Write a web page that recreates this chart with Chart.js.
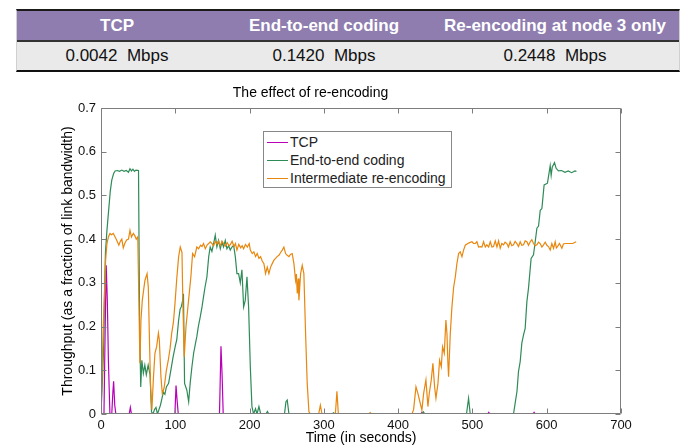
<!DOCTYPE html>
<html>
<head>
<meta charset="utf-8">
<script src="https://cdn.jsdelivr.net/npm/chart.js@4.4.0/dist/chart.umd.min.js"></script>
<style>
html,body{margin:0;padding:0;background:#fff;width:683px;height:445px;overflow:hidden;font-family:"Liberation Sans",Arial,sans-serif;}
#wrap{position:relative;width:683px;height:445px;}
#chart{position:absolute;left:0;top:0;}
#tbl{position:absolute;left:16px;top:9px;width:664px;border-top:2px solid #1a1a1a;border-bottom:2px solid #111;border-left:1px solid #d0d0d0;border-right:1px solid #d0d0d0;box-sizing:border-box;}
.row{display:flex;}
.hdr{background:#8F7DB0;height:29px;border-bottom:2px solid #333;}
.val{background:#EAEAEA;height:28px;}
.cell{display:flex;align-items:center;justify-content:center;white-space:pre;font-size:17px;}
.hdr .cell{color:#fff;font-weight:bold;}
.val .cell{color:#111;}
#legend{position:absolute;left:263px;top:131px;width:189px;height:57px;border:1px solid #888;background:#fff;box-sizing:border-box;}
.li{position:absolute;left:0;height:18px;line-height:18px;font-size:14px;color:#222;white-space:nowrap;}
.li .tx{position:absolute;left:26px;top:0;}
.sw{position:absolute;left:3px;top:9px;width:21px;height:1px;}
</style>
</head>
<body>
<div id="wrap">
<canvas id="chart" width="683" height="445"></canvas>
<div id="tbl"></div>
<div id="legend"></div>
</div>
<script>
// ---- data ----
const tableHeaders = ["TCP", "End-to-end coding", "Re-encoding at node 3 only"];
const tableValues = ["0.0042  Mbps", "0.1420  Mbps", "0.2448  Mbps"];
const seriesNames = ["TCP", "End-to-end coding", "Intermediate re-encoding"];
const xTickValues = [0, 100, 200, 300, 400, 500, 600, 700];
const yTickValues = [0, 0.1, 0.2, 0.3, 0.4, 0.5, 0.6, 0.7];

// [time (s), throughput]
const tcpSeries = [[0,0],[4,0],[5.5,0.18],[7,0.34],[8.5,0.26],[10,0.12],[12,0],[14.5,0],[16,0.05],[17,0.075],[18.5,0.02],[20,0],[38,0],[39.5,0.015],[41,0],[99.5,0],[101,0.065],[102.5,0.03],[104,0],[159.5,0],[161.5,0.155],[163,0.09],[164.5,0],[430.5,0],[432,0.004],[433.5,0],[520.5,0],[522,0.004],[523.5,0],[581.5,0],[583,0.004],[584.5,0],[640,0]];

const e2eSeries = [[0,0],[2,0.08],[3.5,0.15],[5,0.3],[6,0.37],[8,0.42],[10,0.46],[12.5,0.51],[14.5,0.535],[17,0.55],[19,0.556],[22,0.557],[25,0.555],[28,0.558],[31,0.555],[34,0.557],[37,0.553],[39,0.561],[41,0.556],[43,0.56],[45,0.555],[47,0.558],[50.5,0.557],[52,0.2],[53.5,0.062],[55,0.123],[57,0.093],[59,0.112],[61,0.09],[63.5,0.112],[66,0.09],[68,0.005],[70,0],[72,0.01],[74,0.015],[76,0],[78,0.01],[80,0.02],[82,0.035],[84,0.05],[86,0.045],[88,0.062],[91,0.07],[94,0.1],[97,0.13],[100,0.155],[102,0.17],[104.5,0.215],[106.5,0.24],[108,0.245],[110,0.26],[111,0.275],[112.5,0.07],[115.5,0.055],[118,0.028],[120,0.07],[122.4,0.108],[124.7,0.139],[127,0.16],[129,0.177],[131,0.2],[133.6,0.222],[136,0.245],[138,0.268],[140,0.29],[142.6,0.314],[145,0.36],[147,0.382],[149.3,0.372],[151.6,0.39],[153.8,0.409],[156,0.382],[158.3,0.397],[160.6,0.378],[162.8,0.393],[165,0.382],[167.3,0.397],[169.5,0.378],[171.8,0.385],[174,0.375],[176.3,0.382],[178.5,0.386],[180.8,0.36],[183,0.321],[185.2,0.321],[187.5,0.3],[189.7,0.33],[192,0.245],[194.2,0.26],[196.5,0.314],[198.7,0.245],[201,0.108],[203.2,0.017],[205.4,0],[208,0.012],[210,0],[212.6,0.017],[215,0],[222,0],[224,0.006],[226,0],[247,0],[249,0.028],[250.7,0.032],[253,0],[311,0],[313,0.003],[315,0],[432,0],[434,0.005],[436,0],[492,0],[494.8,0.036],[497,0],[555.3,0],[558,0.03],[560,0.052],[562,0.097],[564.3,0.12],[566.5,0.162],[568.8,0.181],[571,0.196],[573.3,0.257],[575.5,0.288],[577.8,0.333],[579,0.356],[582.2,0.364],[584.5,0.394],[586.8,0.425],[589,0.43],[591.3,0.466],[593.5,0.47],[596.5,0.524],[601,0.528],[604.7,0.568],[606,0.546],[607.5,0.565],[610.5,0.575],[612.7,0.562],[615.8,0.556],[620,0.557],[624.5,0.553],[629,0.556],[633.5,0.552],[638,0.556],[640,0.555]];

const reencSeries = [[0,0],[1.7,0.11],[3,0.2],[4.4,0.26],[6.2,0.352],[8,0.39],[10,0.405],[12,0.413],[14,0.41],[16.5,0.413],[19,0.405],[21,0.398],[24,0.386],[26,0.395],[28,0.4],[30,0.38],[32,0.39],[34.5,0.398],[37,0.4],[39,0.42],[41,0.405],[43.5,0.413],[45.5,0.408],[47.5,0.4],[49.5,0.405],[51,0.26],[52.4,0.116],[53.8,0.215],[55.6,0.26],[57.5,0.285],[59.2,0.306],[62,0.321],[63.7,0.29],[65.5,0.15],[66.8,0.06],[68.5,0.01],[70.5,0.08],[72.6,0.139],[74.9,0.154],[77.3,0.185],[78.5,0.17],[80.7,0.085],[82.5,0.047],[85,0.06],[88,0.1],[90.6,0.123],[93,0.15],[95.1,0.184],[97.5,0.21],[99.6,0.253],[102,0.31],[104.5,0.36],[106.7,0.382],[109,0.37],[110.3,0.245],[112.1,0.131],[114.4,0.2],[116.6,0.238],[118.8,0.276],[121,0.314],[123.3,0.367],[126,0.36],[129,0.382],[131.4,0.378],[134,0.386],[136,0.383],[138,0.39],[140.4,0.378],[143,0.387],[145,0.39],[147,0.394],[149.3,0.39],[151.6,0.385],[154,0.395],[156,0.389],[158,0.396],[160.5,0.385],[163,0.395],[165,0.39],[167.5,0.384],[170,0.392],[172.5,0.385],[174,0.387],[176.5,0.395],[179,0.383],[181,0.39],[183,0.375],[185.5,0.388],[188,0.38],[190,0.385],[192,0.378],[194.5,0.388],[197,0.382],[199.5,0.39],[201,0.375],[203.6,0.367],[205.8,0.371],[208.1,0.36],[210.3,0.367],[212.6,0.356],[214.8,0.36],[217,0.35],[219.3,0.344],[221.5,0.321],[223.8,0.336],[226,0.321],[228.3,0.336],[230.5,0.344],[232.8,0.352],[235,0.356],[237,0.36],[239.5,0.363],[242,0.37],[244,0.375],[246.2,0.382],[248.5,0.367],[250.7,0.363],[253,0.36],[255,0.365],[257.4,0.367],[259.7,0.344],[261.9,0.306],[263,0.32],[264.2,0.276],[265.5,0.31],[266.4,0.26],[268.7,0.321],[270.9,0.34],[273.1,0.321],[275.4,0.184],[277.6,0.07],[279.9,0.005],[282,0],[293,0],[295.3,0.02],[297.5,0],[315.5,0],[317.6,0.052],[319.5,0],[360.5,0],[362.4,0.003],[364,0],[418.6,0],[420.8,0.01],[424,0.062],[426.6,0.047],[429.8,0.024],[432,0.009],[434.3,0.047],[437.4,0.078],[440.1,0.017],[441.9,0.047],[444.6,0.078],[446.8,0.116],[449.1,0.062],[450.9,0.036],[453.6,0.07],[455.8,0.123],[458.1,0.108],[459.8,0.154],[462.1,0.139],[464.3,0.215],[465.7,0.184],[467,0.116],[467.9,0.085],[470.2,0.184],[472.4,0.245],[474.7,0.29],[476.9,0.313],[479.1,0.344],[481.4,0.367],[483.6,0.371],[485.9,0.36],[488.1,0.375],[490.4,0.386],[494.8,0.391],[499.3,0.394],[501.5,0.39],[503.8,0.39],[506,0.394],[508.3,0.382],[510.5,0.383],[512.8,0.382],[515,0.394],[517.3,0.382],[519.4,0.387],[521.8,0.382],[524,0.394],[526.3,0.382],[528.4,0.383],[530.7,0.396],[533,0.382],[535.2,0.396],[537.4,0.379],[539.5,0.39],[541.9,0.387],[544,0.393],[546.3,0.39],[548.5,0.382],[550.8,0.394],[553,0.385],[555.3,0.387],[557.5,0.395],[559.8,0.39],[562,0.383],[564.3,0.394],[566.5,0.386],[568.8,0.387],[571,0.396],[573.3,0.394],[575.5,0.386],[577.8,0.394],[580,0.399],[582.2,0.39],[584.5,0.385],[586.7,0.387],[589,0.393],[591.2,0.39],[593.5,0.382],[595.7,0.387],[598,0.393],[600.2,0.386],[602.4,0.383],[604.7,0.375],[606.9,0.39],[609.2,0.379],[611.4,0.394],[613,0.38],[614.5,0.383],[617.2,0.39],[620.4,0.379],[622.5,0.389],[624.9,0.39],[628,0.39],[631.6,0.39],[635,0.39],[639.7,0.394]];

// ---- styles ----
const seriesColors = ["#B800B8", "#2E8B57", "#E8870E"];
const colWidths = [200, 214, 248];

// ---- table ----
(function buildTable(){
  const tbl = document.getElementById('tbl');
  const mk = (cls, arr) => {
    const r = document.createElement('div'); r.className = 'row ' + cls;
    arr.forEach((txt, i) => {
      const c = document.createElement('div'); c.className = 'cell';
      c.style.width = colWidths[i] + 'px'; c.textContent = txt; r.appendChild(c);
    });
    tbl.appendChild(r);
  };
  mk('hdr', tableHeaders);
  mk('val', tableValues);
})();

// ---- legend ----
(function buildLegend(){
  const lg = document.getElementById('legend');
  const tops = [1, 19, 37];
  seriesNames.forEach((n, i) => {
    const d = document.createElement('div'); d.className = 'li';
    d.style.top = tops[i] + 'px';
    const s = document.createElement('div'); s.className = 'sw';
    s.style.backgroundColor = seriesColors[i];
    const t = document.createElement('span'); t.className = 'tx'; t.textContent = n;
    d.appendChild(s); d.appendChild(t); lg.appendChild(d);
  });
})();

const toPts = arr => arr.map(p => ({x: p[0], y: p[1]}));
const seriesData = [tcpSeries, e2eSeries, reencSeries];
const drawOrder = [2, 1, 0];

const frame = {
  id: 'frame',
  afterDraw(chart) {
    const {ctx, chartArea: a, scales: {x, y}} = chart;
    ctx.save();
    ctx.strokeStyle = '#7d7d7d';
    ctx.lineWidth = 1;
    const L = 5;
    const l = Math.round(a.left) + 0.5, r = Math.round(a.right) - 0.5;
    const t = Math.round(a.top) + 0.5, b = Math.round(a.bottom) - 0.5;
    ctx.beginPath();
    ctx.rect(l, t, r - l, b - t);
    x.ticks.forEach(tk => {
      const px = Math.round(x.getPixelForValue(tk.value)) + 0.5;
      ctx.moveTo(px, b); ctx.lineTo(px, b - L);
      ctx.moveTo(px, t); ctx.lineTo(px, t + L);
    });
    y.ticks.forEach(tk => {
      const py = Math.round(y.getPixelForValue(tk.value)) + 0.5;
      ctx.moveTo(l, py); ctx.lineTo(l + L, py);
      ctx.moveTo(r, py); ctx.lineTo(r - L, py);
    });
    ctx.stroke();
    ctx.restore();
  }
};

Chart.defaults.font.family = '"Liberation Sans", Arial, sans-serif';
new Chart(document.getElementById('chart'), {
  type: 'line',
  data: {
    datasets: seriesNames.map((n, i) => ({
      label: n,
      data: toPts(seriesData[i]),
      borderColor: seriesColors[i],
      backgroundColor: seriesColors[i],
      borderWidth: 1.2,
      pointRadius: 0,
      tension: 0,
      fill: false,
      order: drawOrder[i]
    }))
  },
  options: {
    responsive: false,
    animation: false,
    devicePixelRatio: 1,
    layout: { padding: { top: 85, right: 62, bottom: 0, left: 0 } },
    plugins: {
      legend: { display: false },
      tooltip: { enabled: false },
      title: {
        display: true,
        text: 'The effect of re-encoding',
        color: '#000',
        font: { size: 14, weight: 'normal' },
        padding: { top: 0, bottom: 6.2 }
      }
    },
    scales: {
      x: {
        type: 'linear',
        min: 0, max: 700,
        afterBuildTicks: s => { s.ticks = xTickValues.map(v => ({value: v})); },
        afterFit: s => { s.height = 31; },
        grid: { display: false, drawTicks: false },
        border: { display: false },
        ticks: { color: '#111', font: { size: 13 }, padding: 4, maxRotation: 0, autoSkip: false },
        title: { display: true, text: 'Time (in seconds)', color: '#000', font: { size: 14 }, padding: { top: 0, bottom: -1.4 } }
      },
      y: {
        type: 'linear',
        min: 0, max: 0.7,
        afterBuildTicks: s => { s.ticks = yTickValues.map(v => ({value: v})); },
        afterFit: s => { s.width = 101; },
        grid: { display: false, drawTicks: false },
        border: { display: false },
        ticks: { color: '#111', font: { size: 13 }, padding: 5, autoSkip: false },
        title: { display: true, text: 'Throughput (as a fraction of link bandwidth)', color: '#000', font: { size: 14 }, padding: { top: 59.6, bottom: 0 } }
      }
    }
  },
  plugins: [frame]
});
</script>
</body>
</html>
